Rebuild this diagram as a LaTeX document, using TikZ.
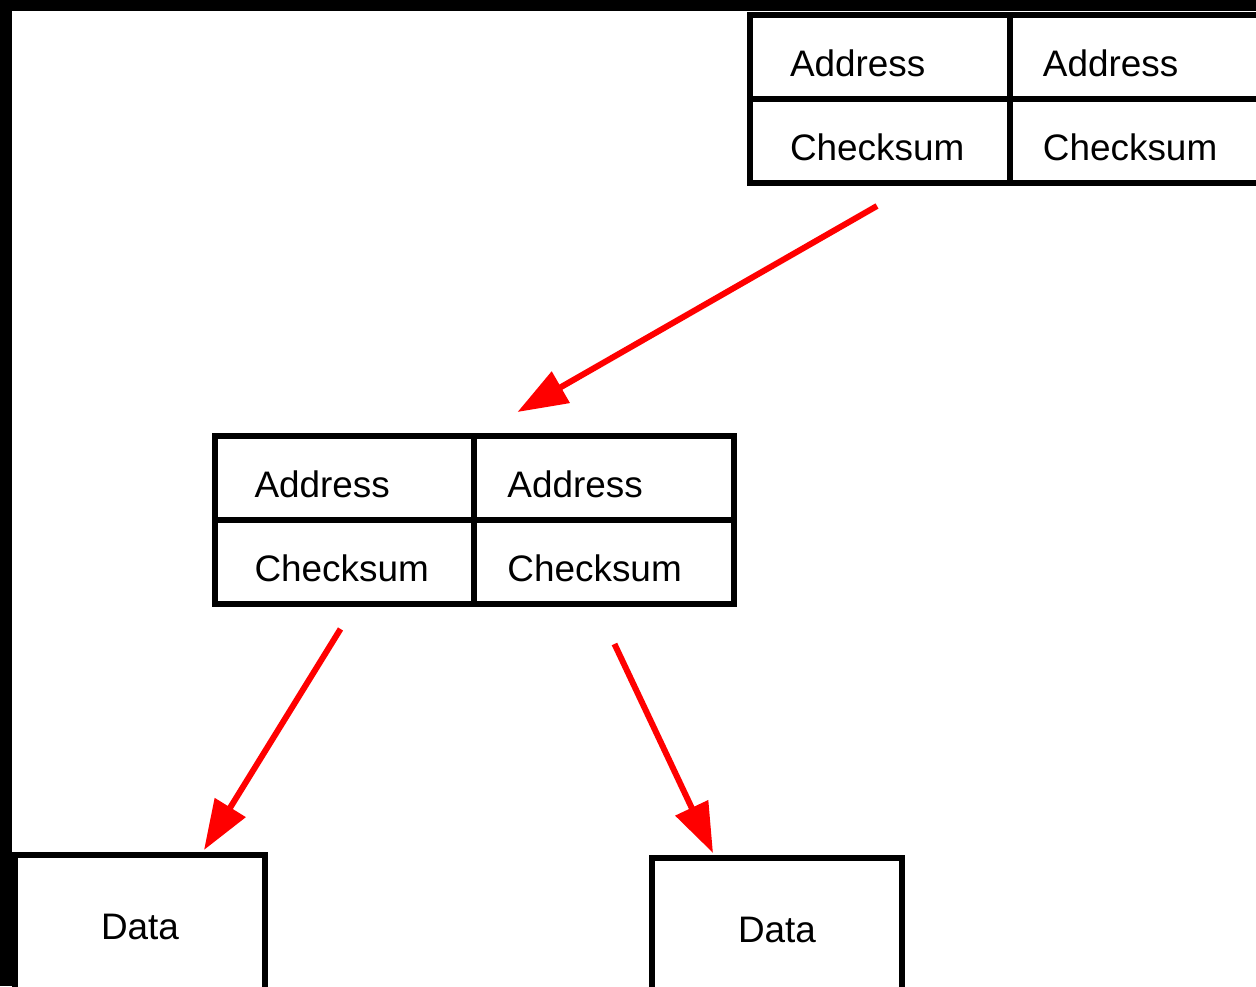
\documentclass[tikz,border=0pt]{standalone}
\usepackage{fontspec}
\setmainfont{Liberation Sans}
\usetikzlibrary{arrows.meta,positioning,calc}
\tikzset{%
    cell/.style={draw,line width=0.12cm,outer sep=0pt,minimum width=5.2cm,minimum height=1.68cm,
        text height=22pt,text depth=0pt,align=left,font=\fontsize{21}{25}\selectfont},
    cellL/.style={cell,inner xsep=0.8cm,text width=3.6cm},
    cellR/.style={cell,inner xsep=0.66cm,text width=3.88cm},
    databox/.style={draw,line width=0.12cm,minimum width=5cm,minimum height=2.88cm,
        font=\fontsize{21}{25}\selectfont},
    link/.style={-{Triangle[length=1cm,width=0.7cm]},draw=red,line width=0.12cm}
}

\begin{document}
\begin{tikzpicture}[x=0.02cm,y=-0.02cm,node distance=0pt]
    \useasboundingbox (0,0) rectangle (1256,986);
    \clip (0,0) rectangle (1256,986);
    \fill[black] (0,0) rectangle (1256,986);
    \fill[white] (12,11) rectangle (1256,986);

    \node[cellL] (tA1) at (880,57) {Address};
    \node[cellL,below=of tA1] (tC1) {Checksum};
    \node[cellR,right=of tA1] (tA2) {Address};
    \node[cellR,below=of tA2] (tC2) {Checksum};

    \node[cellL] (mA1) at (344.5,478) {Address};
    \node[cellL,below=of mA1] (mC1) {Checksum};
    \node[cellR,right=of mA1] (mA2) {Address};
    \node[cellR,below=of mA2] (mC2) {Checksum};

    \node[databox] (dL) at (140,927) {Data};
    \node[databox] (dR) at (777,930) {Data};

    \draw[link] ($(tC1.south)+(-3,23)$) -- ($(mA2.north west)+(43,-24)$);
    \draw[link] ($(mC1.south)+(-4,25)$) -- ($(dL.north)+(64,-2)$);
    \draw[link] ($(mC2.south)+(10,40)$) -- ($(dR.north)+(-64,-2)$);
\end{tikzpicture}
\end{document}
